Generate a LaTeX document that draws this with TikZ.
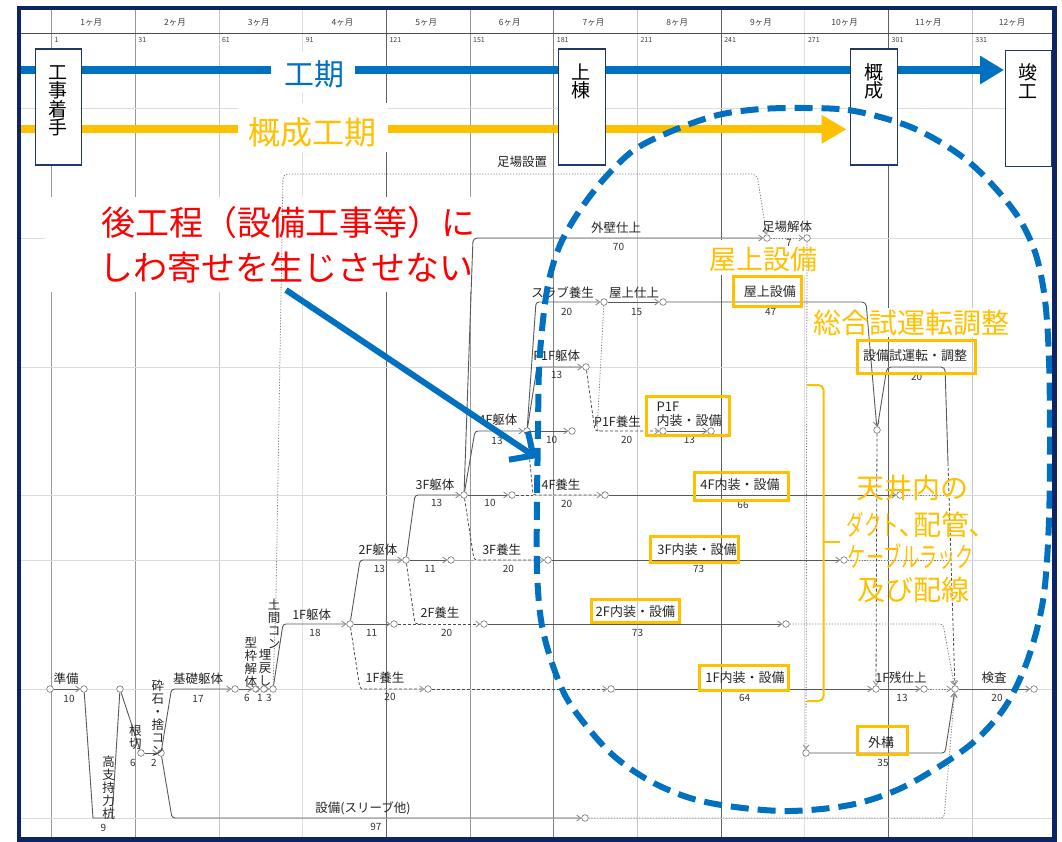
\documentclass[tikz,border=0pt]{standalone}
\usepackage{graphicx}
\usepackage{fontspec}
\setmainfont{Noto Sans CJK JP}
\usetikzlibrary{arrows.meta}
\definecolor{framenavy}{HTML}{0B2566}
\definecolor{boxnavy}{HTML}{1F3864}
\definecolor{pblue}{HTML}{0070C0}
\definecolor{porange}{HTML}{FFC000}
\definecolor{pred}{HTML}{FF0000}
\begin{document}
\begin{tikzpicture}[x=1pt,y=-1pt,
  act/.style={draw=black!65, line width=0.9pt},
  actl/.style={draw=black!35, line width=0.8pt},
  dum/.style={draw=black!70, line width=0.8pt, dash pattern=on 3pt off 2pt},
  dotl/.style={draw=black!50, line width=0.8pt, dash pattern=on 1.2pt off 1.6pt},
  atip/.style={-{Straight Barb[length=4pt,width=6pt,color=black!45]}},
  nn/.style={circle, draw=black!55, fill=white, line width=0.6pt, inner sep=0pt, minimum size=6.6pt},
  lab/.style={font=\fontsize{12.5}{13}\selectfont, inner sep=0pt, text=black!85},
  vlab/.style={lab, align=center},
  num/.style={font=\fontsize{10}{10}\selectfont, inner sep=0pt, text=black!80},
  blab/.style={font=\fontsize{13}{14}\selectfont, inner sep=0pt, text=black!85},
  obox/.style={draw=porange, line width=3pt},
  mstone/.style={draw=boxnavy, line width=1.2pt, fill=white, inner sep=0pt, anchor=north west},
  mtext/.style={font=\fontsize{19}{18.5}\selectfont, align=center, inner sep=0pt},
  mlab/.style={font=\fontsize{8.5}{9}\selectfont, inner sep=0pt, text=black!75},
  dlab/.style={font=\fontsize{7}{7}\selectfont, inner sep=0pt, text=black!75, anchor=west},
  ann/.style={font=\fontsize{#1}{#1}\selectfont, inner sep=0pt, text=porange},
]
\useasboundingbox (0,0) rectangle (1062,841);
\fill[white] (0,0) rectangle (1062,841);
% ---------- grid ----------
\foreach \gk/\gc in {0/40,1/40,2/22,3/12,4/62,5/40,6/50,7/22,8/62,9/12,10/62,11/22}{
  \draw[draw=black!\gc, line width=0.7pt] ({51.5+83.7*\gk},10) -- ({51.5+83.7*\gk},837);
}
\foreach \gy in {108,238,367,495,560,689,818}{
  \draw[draw=black!14, line width=0.7pt] (21,\gy) -- (1052,\gy);
}
\draw[draw=black!70, line width=0.7pt] (21,33.5) -- (1052,33.5);
\foreach \mi [evaluate=\mi as \dd using int(1+30*(\mi-1))] in {1,...,12}{
  \node[mlab] (mon\mi) at ({7.65+83.7*\mi},22.5) {\mi{}ヶ月};
  \node[dlab] (day\mi) at ({54.5+83.7*(\mi-1)},40) {\dd};
}
% ---------- white masks behind annotations ----------
\fill[white] (45,197) rectangle (476,292);
\fill[white] (238,103) rectangle (388,152);
\fill[white] (271,52) rectangle (355,92);
\fill[white] (707,240) rectangle (828,275);
\fill[white] (812,308) rectangle (1012,337);
% ---------- network nodes ----------
\node[nn] (n1) at (50,689) {};
\node[nn] (n2) at (84,689) {};
\node[nn] (n3) at (120,689) {};
\node[nn] (n4) at (141,753) {};
\node[nn] (n5) at (161,753) {};
\node[nn] (n6) at (235,689) {};
\node[nn] (n7) at (256,689) {};
\node[nn] (n8) at (264,689) {};
\node[nn] (n9) at (273,689) {};
\node[nn] (n10) at (350,624) {};
\node[nn] (n11) at (394,624) {};
\node[nn] (n12) at (406,560) {};
\node[nn] (n13) at (451,560) {};
\node[nn] (n14) at (464,495) {};
\node[nn] (n15) at (512,495) {};
\node[nn] (n16) at (527,431) {};
\node[nn] (n17) at (572,431) {};
\node[nn] (n18) at (586,367) {};
\node[nn] (n19) at (604,302) {};
\node[nn] (n20) at (663,302) {};
\node[nn] (n21) at (767,238) {};
\node[nn] (n22) at (807,238) {};
\node[nn] (n23) at (428,689) {};
\node[nn] (n24) at (484,624) {};
\node[nn] (n25) at (548,560) {};
\node[nn] (n26) at (605,495) {};
\node[nn] (n27) at (663,431) {};
\node[nn] (n28) at (711,431) {};
\node[nn] (n29) at (611,689) {};
\node[nn] (n30) at (786,624) {};
\node[nn] (n31) at (844,560) {};
\node[nn] (n32) at (900,495) {};
\node[nn] (n33) at (877,430) {};
\node[nn] (n34) at (876,689) {};
\node[nn] (n35) at (924,689) {};
\node[nn] (n36) at (955,689) {};
\node[nn] (n37) at (1034,689) {};
\node[nn] (n38) at (806,753) {};
\node[nn] (n39) at (585,818) {};
% ---------- network edges ----------
\draw[act, atip] (n1) -- (n2);
\draw[act] (n2) -- (93,818) -- (112,818) -- (n3);
\draw[act] (n3) -- (n4);
\draw[act, atip] (n4) -- (n5);
\draw[act, atip, rounded corners=3pt] (n5) -- (171.5,689) -- (n6);
\draw[act, atip, rounded corners=3pt] (n5) -- (172,818) -- (n39);
\draw[act, atip] (n6) -- (n7);
\draw[act, atip] (n7) -- (n8);
\draw[act, atip] (n8) -- (n9);
\draw[act, atip, rounded corners=3pt] (n9) -- (283,624) -- (n10);
\draw[dotl, atip, rounded corners=5pt] (n9) -- (276,598) -- (283,174) -- (757,174) -- (n21);
\draw[act, atip] (n10) -- (n11);
\draw[dum, atip, rounded corners=3pt] (n10) -- (360,689) -- (n23);
\draw[act, atip, rounded corners=3pt] (n10) -- (360,560) -- (n12);
\draw[dum, atip] (n11) -- (n24);
\draw[dum, rounded corners=3pt] (n12) -- (415,624) -- (425,624);
\draw[act, atip] (n12) -- (n13);
\draw[act, atip, rounded corners=3pt] (n12) -- (415,495) -- (n14);
\draw[actl] (n13) -- (474,560);
\draw[dum, atip, rounded corners=3pt] (n14) -- (474,560) -- (n25);
\draw[act, atip] (n14) -- (n15);
\draw[act, atip, rounded corners=3pt] (n14) -- (475,431) -- (n16);
\draw[act, atip, rounded corners=4pt] (n14) -- (473,238) -- (n21);
\draw[dum] (n15) -- (533,495);
\draw[dum, atip, rounded corners=3pt] (n16) -- (533,495) -- (n26);
\draw[act, atip] (n16) -- (n17);
\draw[act, atip, rounded corners=3pt] (n16) -- (537,367) -- (n18);
\draw[act, atip, rounded corners=3pt] (n16) -- (536,302) -- (n19);
\draw[dum, atip, rounded corners=3pt] (n18) -- (595,431) -- (n27);
\draw[dotl, rounded corners=3pt] (n19) -- (597,431) -- (602,431);
\draw[act, atip] (n19) -- (n20);
\draw[act, atip, rounded corners=4pt] (n20) -- (866,302) -- (n33);
\draw[dotl, atip] (n21) -- (n22);
\draw[dotl, atip] (n22) -- (n38);
\draw[act, atip] (n27) -- (n28);
\draw[dum, atip] (n23) -- (n29);
\draw[act, atip] (n24) -- (n30);
\draw[act, atip] (n25) -- (n31);
\draw[act, atip] (n26) -- (n32);
\draw[act, atip] (n29) -- (n34);
\draw[dotl, atip, rounded corners=3pt] (n30) -- (943,624) -- (n36);
\draw[dotl] (n31) -- (948,560);
\draw[dotl] (n32) -- (948,495);
\draw[dum, atip] (n33) -- (n34);
\coordinate (c1) at (948,463);
\draw[act, rounded corners=4pt] (n33) -- (887,367) -- (945,367) -- (c1);
\draw[dum, atip] (c1) -- (n36);
\draw[act, atip] (n34) -- (n35);
\draw[dotl, atip] (n35) -- (n36);
\draw[act, atip] (n36) -- (n37);
\draw[act, atip, rounded corners=3pt] (n38) -- (945,753) -- (n36);
\draw[dotl, atip, rounded corners=3pt] (n39) -- (944,818) -- (n36);
% ---------- network labels ----------
\node[lab] (t1) at (66,679) {準備};
\node[num] (d1) at (69,699) {10};
\node[vlab] (t2) at (108.6,787.5) {高\\支\\持\\力\\杭};
\node[num] (d2) at (103.4,828.3) {9};
\node[vlab] (t3) at (135.3,737.5) {根\\切};
\node[num] (d3) at (132.8,763.3) {6};
\node[vlab] (t4) at (157.8,718.3) {砕\\石\\・\\捨\\コ\\ン};
\node[num] (d4) at (154,763.3) {2};
\node[lab] (t5) at (198,679) {基礎躯体};
\node[num] (d5) at (198,699) {17};
\node[vlab] (t6) at (250.8,662.5) {型\\枠\\解\\体};
\node[num] (d6) at (247,698) {6};
\node[vlab] (t7) at (265,667.5) {埋\\戻\\し};
\node[num] (d7) at (260,698) {1};
\node[vlab] (t8) at (274,624.2) {土\\間\\コ\\ン};
\node[num] (d8) at (269,698) {3};
\node[lab] (t9) at (311.7,615) {1F躯体};
\node[num] (d9) at (315,633.3) {18};
\node[num] (d10) at (371.7,633.3) {11};
\node[lab] (t11) at (385,678) {1F養生};
\node[num] (d11) at (390,697) {20};
\node[lab] (t12) at (378,550) {2F躯体};
\node[num] (d12) at (379.3,569) {13};
\node[num] (d13) at (430,569) {11};
\node[lab] (t14) at (440,613) {2F養生};
\node[num] (d14) at (446.7,633.3) {20};
\node[lab] (t15) at (435,485) {3F躯体};
\node[num] (d15) at (436.7,503.3) {13};
\node[num] (d16) at (490,503.3) {10};
\node[lab] (t17) at (501.7,550) {3F養生};
\node[num] (d17) at (508.3,569) {20};
\node[lab] (t18) at (498,420) {4F躯体};
\node[num] (d18) at (497,440.5) {13};
\node[lab] (t19) at (561,485) {4F養生};
\node[num] (d19) at (566.7,504) {20};
\node[num] (d20) at (551.7,440) {10};
\node[lab] (t21) at (556.7,356) {P1F躯体};
\node[num] (d21) at (556.7,375) {13};
\node[lab] (t22) at (562.5,292.5) {スラブ養生};
\node[num] (d22) at (566.7,311.7) {20};
\node[lab] (t23) at (634,292.5) {屋上仕上};
\node[num] (d23) at (636.7,311.7) {15};
\node[lab] (t24) at (617.5,421.7) {P1F養生};
\node[num] (d24) at (626.7,440) {20};
\node[lab] (t25) at (616,227.5) {外壁仕上};
\node[num] (d25) at (618.5,246.7) {70};
\node[lab] (t26) at (787,227) {足場解体};
\node[num] (d26) at (789,242.5) {7};
\node[lab] (t27) at (522,162) {足場設置};
\node[blab] (t28) at (769.8,291.7) {屋上設備};
\node[num] (d28) at (770.6,312.3) {47};
\node[blab] (t29) at (915,356) {設備試運転・調整};
\node[num] (d29) at (916.7,376.7) {20};
\node[blab, anchor=west] (t30a) at (656.5,406.7) {P1F};
\node[blab, anchor=west] (t30b) at (656.5,421) {内装・設備};
\node[num] (d30) at (689.4,440) {13};
\node[blab] (t31) at (740,485) {4F内装・設備};
\node[num] (d31) at (743,505) {66};
\node[blab] (t32) at (697,550) {3F内装・設備};
\node[num] (d32) at (698.7,569) {73};
\node[blab] (t33) at (635.4,612) {2F内装・設備};
\node[num] (d33) at (637.5,633.3) {73};
\node[blab] (t34) at (745,678) {1F内装・設備};
\node[num] (d34) at (744.7,698.3) {64};
\node[lab] (t35) at (901,678) {1F残仕上};
\node[num] (d35) at (902,698) {13};
\node[lab] (t36) at (994,678) {検査};
\node[num] (d36) at (997,698) {20};
\node[blab] (t37) at (881,742.5) {外構};
\node[num] (d37) at (883,762.7) {35};
\node[lab] (t38) at (363,808) {設備(スリーブ他)};
\node[num] (d38) at (375.9,826.7) {97};
% ---------- orange frames ----------
\draw[obox] (733.6,276) rectangle (801.7,306.7);
\draw[obox] (857,340) rectangle (975.6,373);
\draw[obox] (646,396) rectangle (729,435);
\draw[obox] (694,472.7) rectangle (788,500);
\draw[obox] (650.7,536.7) rectangle (738.5,562);
\draw[obox] (591,599.5) rectangle (679.7,622.5);
\draw[obox] (699.7,665) rectangle (788.6,690);
\draw[obox] (857,726) rectangle (907,754);
% ---------- period arrows ----------
\coordinate (bl0) at (19,70);
\coordinate (bl1) at (271,70);
\coordinate (bl2) at (355,70);
\coordinate (bl3) at (1004,70);
\draw[pblue, line width=8pt] (bl0) -- (bl1);
\draw[pblue, line width=8pt, -{Triangle[length=24pt,width=27pt]}] (bl2) -- (bl3);
\node[font=\fontsize{30}{30}\selectfont, text=pblue, inner sep=0pt] (kouki) at (314,74.5) {工期};
\coordinate (or0) at (19,129.3);
\coordinate (or1) at (238,129.3);
\coordinate (or2) at (388,129.3);
\coordinate (or3) at (846.6,129.3);
\draw[porange, line width=8pt] (or0) -- (or1);
\draw[porange, line width=8pt, -{Triangle[length=25pt,width=27pt]}] (or2) -- (or3);
\node[font=\fontsize{32}{32}\selectfont, text=porange, inner sep=0pt] (gaisei) at (312,132.5) {概成工期};
% ---------- milestones ----------
\node[mstone, minimum width=46.5pt, minimum height=116pt] (ms1) at (34.5,48.3) {};
\node[mtext] (ms1t) at (57.7,101) {工\\事\\着\\手};
\node[mstone, minimum width=46.7pt, minimum height=116pt] (ms2) at (558,48.3) {};
\node[mtext] (ms2t) at (581.3,81.5) {上\\棟};
\node[mstone, minimum width=47pt, minimum height=116pt] (ms3) at (850,48.3) {};
\node[mtext] (ms3t) at (873.5,81.5) {概\\成};
\node[mstone, minimum width=46pt, minimum height=115.7pt] (ms4) at (1005,50) {};
\node[mtext] (ms4t) at (1028,81) {竣\\工};
% ---------- annotations ----------
\node[font=\fontsize{34}{34}\selectfont, text=pred, inner sep=0pt] (red1) at (288,223) {後工程（設備工事等）に};
\node[font=\fontsize{34}{34}\selectfont, text=pred, inner sep=0pt] (red2) at (286,268) {しわ寄せを生じさせない};
\coordinate (ar1) at (286,290);
\coordinate (ar2) at (537,458);
\draw[pblue, line width=6pt, -{Straight Barb[length=18pt,width=34pt]}] (ar1) -- (ar2);
\node[ann=27] (ann1) at (763,259.5) {屋上設備};
\node[ann=28] (ann2) at (911.5,322.5) {総合試運転調整};
\node[ann=28] (ann3) at (912.5,487.5) {天井内の};
\node[ann=28] (ann4) at (915,524.5) {\scalebox{0.62}[1]{ダクト}､配管､};
\node[ann=28] (ann5) at (911,556.5) {\scalebox{0.65}[1]{ケーブルラック}};
\node[ann=28] (ann6) at (913,589.5) {及び配線};
\draw[porange, line width=2pt, rounded corners=5pt] (807,385) -- (823.5,385) -- (823.5,701) -- (807,701);
\draw[porange, line width=2pt] (823.5,542) -- (840,542);
% ---------- dashed ellipse ----------
\draw[pblue, line width=6pt, dash pattern=on 18pt off 9pt]
  plot[smooth cycle, tension=0.55] coordinates {
  (790,108) (848,110) (900,123) (935,139) (969,162) (997,190) (1020,220) (1036,255)
  (1045,300) (1049,360) (1050,440) (1049,520) (1045,585) (1038,625) (1025,667)
  (1005,707) (976,740) (940,766) (897,790) (850,805) (790,811) (735,807) (690,798)
  (650,781) (615,757) (588,728) (566,697) (551,660) (541,620) (537,570) (537,500)
  (538,430) (539,370) (543,320) (549,280) (560,245) (578,213) (603,180) (634,150)
  (672,131) (714,116) (750,110)};
% ---------- frame ----------
\draw[framenavy, line width=4.5pt] (19,8) rectangle (1054.5,839.5);
\end{tikzpicture}
\end{document}
